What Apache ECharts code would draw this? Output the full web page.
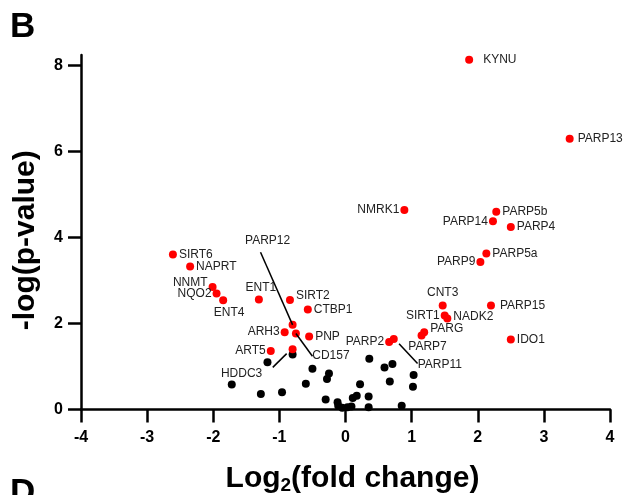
<!DOCTYPE html>
<html>
<head>
<meta charset="utf-8">
<script src="https://cdn.jsdelivr.net/npm/echarts@6/dist/echarts.min.js"></script>
<style>
  html, body { margin: 0; padding: 0; background: #fff; }
  #chart { width: 628px; height: 495px; }
</style>
</head>
<body>
<div id="chart"></div>
<script>
// significant genes (red, labelled)
const redNames = ['KYNU', 'PARP13', 'NMRK1', 'PARP5b', 'PARP14', 'PARP4', 'PARP5a', 'PARP9', 'CNT3', 'PARP15',
  'SIRT1', 'NADK2', 'PARG', 'PARP7', 'PARP2', 'PARP11', 'IDO1', 'SIRT6', 'NAPRT', 'NNMT',
  'NQO2', 'ENT4', 'ENT1', 'SIRT2', 'CTBP1', 'PARP12', 'ARH3', 'CD157', 'PNP', 'ART5', 'HDDC3'];
const redX = [1.87, 3.39, 0.89, 2.28, 2.23, 2.50, 2.13, 2.04, 1.47, 2.20,
  1.50, 1.54, 1.19, 1.15, 0.66, 0.73, 2.50, -2.61, -2.35, -2.01,
  -1.95, -1.85, -1.31, -0.84, -0.57, -0.80, -0.92, -0.75, -0.55, -1.13, -0.80];
const redY = [8.14, 6.30, 4.64, 4.60, 4.38, 4.25, 3.63, 3.43, 2.42, 2.42,
  2.19, 2.12, 1.80, 1.72, 1.57, 1.64, 1.63, 3.61, 3.33, 2.85,
  2.70, 2.54, 2.56, 2.55, 2.33, 1.97, 1.80, 1.77, 1.70, 1.36, 1.40];

// non-significant genes (black)
const blackX = [-1.72, -1.28, -0.96, -1.18, -0.80, -0.60, -0.50, -0.25, -0.28, -0.30,
  -0.12, -0.11, -0.05, 0.03, 0.09, 0.11, 0.17, 0.22, 0.35, 0.36,
  0.35, 0.59, 0.71, 0.67, 1.03, 1.02, 0.85];
const blackY = [0.58, 0.36, 0.40, 1.10, 1.28, 0.60, 0.95, 0.84, 0.71, 0.23,
  0.17, 0.09, 0.04, 0.05, 0.07, 0.27, 0.32, 0.59, 0.30, 1.18,
  0.05, 0.98, 1.06, 0.65, 0.80, 0.53, 0.09];

// leader lines for the crowded labels
const leaderFrom = [[-1.285, 3.66], [-0.75, 1.77], [0.81, 1.53], [-1.10, 0.98]];
const leaderTo = [[-0.80, 1.97], [-0.50, 1.24], [1.09, 1.07], [-0.89, 1.30]];

const yTicks = [0, 2, 4, 6, 8];

// label placement per gene
const labelCfg = {
  KYNU: { position: 'right', distance: 10 },
  PARP13: { position: 'right', distance: 4 },
  NMRK1: { position: 'left', distance: 1 },
  PARP14: { position: 'left', distance: 1 },
  PARP9: { position: 'left', distance: 1 },
  SIRT1: { position: 'left', distance: 1 },
  PARP2: { position: 'left', distance: 1 },
  ARH3: { position: 'left', distance: 1 },
  ART5: { position: 'left', distance: 1 },
  NQO2: { position: 'left', distance: 1 },
  NNMT: { position: 'left', distance: 1, offset: [0, -4] },
  ENT1: { position: 'top', distance: 2, offset: [2, 0] },
  CNT3: { position: 'top', distance: 3 },
  ENT4: { position: 'bottom', distance: 2, offset: [6, 0] },
  PARP7: { position: 'bottom', distance: 1, offset: [6, 0] },
  SIRT2: { position: 'right', distance: 2, offset: [0, -4] },
  NADK2: { position: 'right', distance: 2, offset: [0, -2] },
  PARG: { position: 'right', distance: 2, offset: [0, -3] },
  PARP15: { position: 'right', distance: 5 },
  PARP12: { position: 'inside', offset: [-25, -84] },
  CD157: { position: 'inside', offset: [35, 22] },
  PARP11: { position: 'inside', offset: [46, 26] },
  HDDC3: { position: 'inside', offset: [-51, 24] }
};

const redData = redNames.map((n, i) => ({
  name: n,
  value: [redX[i], redY[i]],
  label: Object.assign({ position: 'right', distance: 2 }, labelCfg[n] || {})
}));
const blackData = blackX.map((x, i) => [x, blackY[i]]);

const chart = echarts.init(document.getElementById('chart'));
const font = '"Liberation Sans", Arial, sans-serif';

chart.setOption({
  animation: false,
  grid: { left: 81, right: 18, top: 55, bottom: 85.5, outerBoundsMode: 'none' },
  graphic: [
    { type: 'text', left: 10, top: 10, style: { text: 'B', font: 'bold 35px ' + font, fill: '#000' } },
    { type: 'text', left: 10, top: 476, style: { text: 'D', font: 'bold 35px ' + font, fill: '#000' } }
  ],
  xAxis: {
    type: 'value', min: -4, max: 4, interval: 1,
    axisLine: { onZero: false, lineStyle: { color: '#000', width: 2.5 } },
    axisTick: { length: 13, lineStyle: { color: '#000', width: 2.5 } },
    axisLabel: { color: '#000', fontSize: 16, fontWeight: 'bold', fontFamily: font, margin: 20 },
    splitLine: { show: false },
    name: '{a|Log}{s|2}{a|(fold change)}',
    nameLocation: 'middle', nameGap: 52,
    nameTextStyle: {
      padding: [0, 0, 0, 14],
      rich: {
        a: { fontSize: 30, fontWeight: 'bold', fontFamily: font, color: '#000', lineHeight: 34 },
        s: { fontSize: 19, fontWeight: 'bold', fontFamily: font, color: '#000', lineHeight: 34, padding: [14, 0, 0, 0] }
      }
    }
  },
  yAxis: {
    type: 'value', min: 0, max: 8.25,
    axisLine: { onZero: false, lineStyle: { color: '#000', width: 2.5 } },
    axisTick: { length: 13, customValues: yTicks, lineStyle: { color: '#000', width: 2.5 } },
    axisLabel: { customValues: yTicks, color: '#000', fontSize: 16, fontWeight: 'bold', fontFamily: font, margin: 18 },
    splitLine: { show: false },
    name: '-log(p-value)',
    nameLocation: 'middle', nameGap: 40, nameRotate: 90,
    nameTextStyle: { fontSize: 30, fontWeight: 'bold', fontFamily: font, color: '#000', padding: [0, 16, 0, 0] }
  },
  series: [
    {
      type: 'scatter', symbolSize: 8, data: blackData,
      itemStyle: { color: '#000', opacity: 1 }, silent: true
    },
    {
      type: 'scatter', symbolSize: 8, data: redData,
      itemStyle: { color: '#ff0000', opacity: 1 },
      label: {
        show: true, formatter: '{b}', color: '#222', fontSize: 12, fontFamily: font
      },
      markLine: {
        silent: true, symbol: 'none', animation: false,
        label: { show: false },
        lineStyle: { color: '#000', width: 1.5, type: 'solid' },
        data: leaderFrom.map((p, i) => [{ coord: p }, { coord: leaderTo[i] }])
      }
    }
  ]
});
</script>
</body>
</html>
